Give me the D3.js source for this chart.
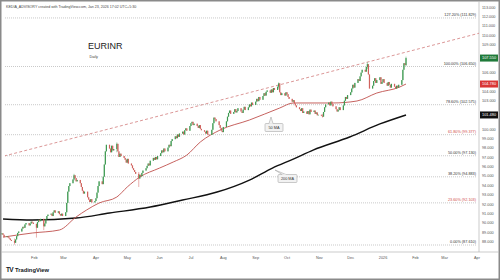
<!DOCTYPE html>
<html>
<head>
<meta charset="utf-8">
<script src="https://cdn.jsdelivr.net/npm/d3@7"></script>
<style>
  html, body { margin: 0; padding: 0; background: #fff; }
  svg { display: block; font-family: "Liberation Sans", Arial, sans-serif; }
</style>
</head>
<body>
<svg id="chart" width="500" height="280"></svg>
<script>
// ---- data ----
var firstDay = "2025-01-01", lastDay = "2026-01-23";
var firstOpen = 88.75;
// daily closes, one row per week
var closes = [
    88.85, 88.70, 88.45,
    88.55, 88.40, 88.30, 88.15, 88.05,
    87.85, 88.20, 88.55, 88.90, 89.05,
    89.35, 89.55, 89.45, 89.80, 89.95,
    89.70, 89.90, 90.10, 90.00, 89.85,
    89.45, 90.05, 90.30, 90.15, 90.40,
    89.60, 89.90, 90.35, 90.70, 90.85,
    90.95, 90.70, 91.10, 91.30, 91.05,
    91.20, 90.90, 90.75, 90.95, 90.70,
    91.10, 92.10, 93.30, 93.90, 94.20,
    94.60, 95.05, 94.75, 94.40, 94.55,
    94.20, 93.80, 93.40, 93.10, 93.30,
    92.70, 92.45, 92.20, 92.50, 92.15,
    92.30, 92.60, 93.20, 93.90, 94.40,
    94.10, 94.90, 96.20, 97.60, 98.30,
    97.90, 97.50, 98.20, 97.70, 97.85,
    98.40, 97.60, 97.00, 97.35, 97.10,
    96.90, 96.70, 96.40, 96.80, 96.30,
    96.10, 95.80, 95.60, 95.40, 95.20,
    94.70, 95.10, 94.95, 95.30, 95.55,
    95.80, 96.05, 96.30, 96.10, 96.60,
    96.90, 96.70, 97.00, 96.75, 97.10,
    97.40, 97.70, 97.50, 97.90, 97.60,
    98.00, 98.30, 98.15, 98.70, 98.90,
    99.20, 99.00, 99.40, 99.15, 99.50,
    99.70, 99.40, 99.85, 100.05, 99.80,
    100.30, 100.60, 100.75, 100.40, 100.55,
    100.30, 100.10, 100.40, 100.00, 99.85,
    99.70, 99.50, 99.80, 99.40, 99.35,
    99.90, 100.60, 101.20, 101.05, 100.80,
    100.40, 100.10, 99.80, 99.65, 100.20,
    100.80, 101.30, 101.70, 101.95, 101.60,
    101.80, 102.10, 101.75, 101.90, 102.20,
    101.85, 101.70, 102.05, 102.35, 102.00,
    102.30, 102.60, 102.40, 102.80, 102.55,
    102.90, 103.20, 102.95, 103.40, 103.10,
    103.50, 103.80, 103.55, 103.95, 104.10,
    103.85, 104.20, 103.90, 104.35, 104.15,
    104.50, 104.85, 103.90, 103.60, 103.80,
    103.55, 103.90, 103.70, 103.40, 103.20,
    102.90, 103.05, 102.70, 102.50, 102.30,
    102.10, 101.90, 102.20, 101.70, 101.85,
    101.60, 101.90, 101.55, 102.05, 101.80,
    101.95, 101.60, 101.75, 101.45, 101.50,
    101.40, 101.30, 101.80, 102.30, 102.60,
    102.80, 102.50, 102.90, 102.65, 102.40,
    102.10, 101.85, 102.00, 102.30, 102.00,
    102.50, 103.00, 103.40, 103.20, 103.60,
    103.90, 104.30, 104.70, 104.40, 104.90,
    105.30, 105.10, 105.60, 106.00, 106.30,
    106.10, 106.60, 106.90, 105.80, 104.30,
    104.60, 105.10, 105.40, 104.90, 105.20,
    105.50, 104.80, 105.00, 105.30, 104.90,
    104.60, 105.00, 104.70, 104.40, 104.80,
    104.50, 104.30, 104.60, 104.40, 104.70,
    105.20, 106.30, 107.00, 106.80, 107.55
];
// visible long wicks [date, high, low]
var spikes = [
    ["2025-01-13", 88.30, 87.65],
    ["2025-02-03", 89.90, 88.40],
    ["2025-02-10", 90.40, 89.20],
    ["2025-03-11", 95.20, 94.50],
    ["2025-04-21", 98.55, 97.50],
    ["2025-05-12", 95.40, 93.80],
    ["2025-09-23", 104.95, 104.30],
    ["2025-11-04", 101.60, 101.20],
    ["2025-12-17", 107.10, 106.40],
    ["2026-01-23", 107.70, 106.70]
];
var ma50 = [
    ["2025-01-02", 88.45], ["2025-01-30", 88.89], ["2025-02-25", 89.21],
    ["2025-03-13", 90.60], ["2025-03-23", 91.34], ["2025-04-04", 92.09],
    ["2025-04-21", 92.73], ["2025-05-01", 93.80], ["2025-05-13", 94.86],
    ["2025-06-01", 95.82], ["2025-06-14", 96.46], ["2025-06-27", 97.20],
    ["2025-07-10", 98.60], ["2025-07-29", 99.88], ["2025-08-26", 100.94],
    ["2025-09-24", 102.22], ["2025-10-07", 102.76], ["2025-11-14", 102.76],
    ["2025-12-07", 102.97], ["2025-12-26", 103.82], ["2026-01-17", 104.46],
    ["2026-01-23", 104.78]
];
var ma200 = [
    ["2025-01-02", 90.38], ["2025-01-30", 90.28], ["2025-03-13", 90.49],
    ["2025-04-14", 91.02], ["2025-05-23", 91.66], ["2025-06-23", 92.41],
    ["2025-07-26", 93.26], ["2025-08-26", 94.54], ["2025-09-17", 95.82],
    ["2025-10-07", 96.78], ["2025-10-26", 97.74], ["2025-11-30", 99.13],
    ["2025-12-29", 100.52], ["2026-01-23", 101.48]
];
var trendLine = [["2025-01-03", 97.10], ["2026-04-03", 110.20]];
var fibLow = 87.61, fibHigh = 106.65;
var fibRatios = [0, 0.236, 0.382, 0.5, 0.618, 0.786, 1, 1.272];
var fibRed = [0.236, 0.618];
var priceTicks = [88, 89, 90, 91, 92, 93, 94, 95, 96, 97, 98, 99, 100,
    101, 102, 103, 104, 105, 106, 107, 108, 109, 110, 111, 112, 113];
var monthTicks = ["2025-02-01", "2025-03-01", "2025-04-01", "2025-05-01", "2025-06-01",
    "2025-07-01", "2025-08-01", "2025-09-01", "2025-10-01", "2025-11-01", "2025-12-01",
    "2026-01-01", "2026-02-01", "2026-03-01", "2026-04-01"];
var monthLabels = ["Feb", "Mar", "Apr", "May", "Jun", "Jul", "Aug", "Sep", "Oct",
    "Nov", "Dec", "2026", "Feb", "Mar", "Apr"];

var headerText = "KEDIA_ADVISORY created with TradingView.com, Jan 23, 2026 17:02 UTC+5:30";

// ---- layout ----
var plotLeft = 5, plotRight = 479, plotBottom = 252;
var upColor = "#3f9a52", downColor = "#d0625d";

var parse = d3.utcParse("%Y-%m-%d");
var svg = d3.select("#chart");

var x = d3.scaleUtc()
    .domain([parse("2025-01-01"), parse("2026-04-01")])
    .range([2, 477]);

var y = d3.scaleLinear()
    .domain([fibLow, fibHigh])
    .range([245, 66.5]);

var days = d3.utcDay.range(parse(firstDay), d3.utcDay.offset(parse(lastDay), 1))
    .filter(function(d) {
        var w = d.getUTCDay();
        return w > 0 && w < 6;
    });
if (days.length !== closes.length) console.log("day count", days.length, closes.length);

var spikeMap = {};
spikes.forEach(function(s) { spikeMap[s[0]] = s; });

var candles = days.map(function(d, i) {
    var open = i ? closes[i - 1] : firstOpen;
    var close = closes[i];
    var key = d3.utcFormat("%Y-%m-%d")(d);
    var hi = Math.max(open, close), lo = Math.min(open, close);
    if (spikeMap[key]) {
        hi = Math.max(hi, spikeMap[key][1]);
        lo = Math.min(lo, spikeMap[key][2]);
    }
    return { date: d, open: open, close: close, high: hi, low: lo };
});

var lastClose = closes[closes.length - 1];
var last50 = ma50[ma50.length - 1][1];
var last200 = ma200[ma200.length - 1][1];

// frame
svg.append("rect")
    .attr("x", 0.75).attr("y", 0.75)
    .attr("width", 498.5).attr("height", 278.5)
    .attr("fill", "#fff")
    .attr("stroke", "#8a8a8a")
    .attr("stroke-width", 1.5);

svg.append("text")
    .attr("x", 6).attr("y", 7.5)
    .attr("font-size", 3.6)
    .attr("fill", "#444")
    .text(headerText);

// plot clip
svg.append("clipPath").attr("id", "plot")
    .append("rect")
    .attr("x", plotLeft).attr("y", 10)
    .attr("width", plotRight - plotLeft).attr("height", plotBottom - 10);

// axes lines
svg.append("line")
    .attr("x1", plotRight).attr("x2", plotRight)
    .attr("y1", 1.5).attr("y2", plotBottom)
    .attr("stroke", "#b5b5b5").attr("stroke-width", 0.7);
svg.append("line")
    .attr("x1", 1.5).attr("x2", 498.5)
    .attr("y1", plotBottom).attr("y2", plotBottom)
    .attr("stroke", "#b5b5b5").attr("stroke-width", 0.7);

// fib levels
var fib = svg.append("g").attr("clip-path", "url(#plot)");
fib.selectAll("line")
    .data(fibRatios)
    .enter().append("line")
    .attr("x1", plotLeft).attr("x2", plotRight - 2)
    .attr("y1", function(r) { return y(fibLow + r * (fibHigh - fibLow)); })
    .attr("y2", function(r) { return y(fibLow + r * (fibHigh - fibLow)); })
    .attr("stroke", "#8f8f8f")
    .attr("stroke-width", 0.6)
    .attr("stroke-dasharray", "0.8,1.2");
svg.append("g").selectAll("text")
    .data(fibRatios)
    .enter().append("text")
    .attr("x", plotRight - 3)
    .attr("y", function(r) { return y(fibLow + r * (fibHigh - fibLow)) - 1.6; })
    .attr("text-anchor", "end")
    .attr("font-size", 3.8)
    .attr("fill", function(r) { return fibRed.indexOf(r) >= 0 ? "#d04a4a" : "#333"; })
    .text(function(r) {
        return d3.format(".2f")(r * 100) + "% (" + d3.format(".3f")(fibLow + r * (fibHigh - fibLow)) + ")";
    });

// trend line
svg.append("line")
    .attr("clip-path", "url(#plot)")
    .attr("x1", x(parse(trendLine[0][0]))).attr("y1", y(trendLine[0][1]))
    .attr("x2", x(parse(trendLine[1][0]))).attr("y2", y(trendLine[1][1]))
    .attr("stroke", "#d27c7c")
    .attr("stroke-width", 0.8)
    .attr("stroke-dasharray", "3,2.2");

// moving averages
var maLine = d3.line()
    .x(function(d) { return x(parse(d[0])); })
    .y(function(d) { return y(d[1]); })
    .curve(d3.curveMonotoneX);

svg.append("path")
    .attr("d", maLine(ma200))
    .attr("fill", "none")
    .attr("stroke", "#111")
    .attr("stroke-width", 1.4);

svg.append("path")
    .attr("d", maLine(ma50))
    .attr("fill", "none")
    .attr("stroke", "#c0504d")
    .attr("stroke-width", 0.9);

// candles
var cg = svg.append("g");
cg.selectAll("line")
    .data(candles)
    .enter().append("line")
    .attr("x1", function(d) { return x(d.date); })
    .attr("x2", function(d) { return x(d.date); })
    .attr("y1", function(d) { return y(d.high); })
    .attr("y2", function(d) { return y(d.low); })
    .attr("stroke", function(d) { return d.close >= d.open ? upColor : downColor; })
    .attr("stroke-width", 0.5);
cg.selectAll("rect")
    .data(candles)
    .enter().append("rect")
    .attr("x", function(d) { return x(d.date) - 0.6; })
    .attr("width", 1.2)
    .attr("y", function(d) { return y(Math.max(d.open, d.close)); })
    .attr("height", function(d) { return Math.max(0.6, Math.abs(y(d.open) - y(d.close))); })
    .attr("fill", function(d) { return d.close >= d.open ? upColor : downColor; });

// price axis (labels hidden behind the price tags)
var tagValues = [lastClose, last50, last200];
var shownTicks = priceTicks.filter(function(v) {
    return tagValues.every(function(t) { return Math.abs(y(v) - y(t)) > 6; });
});
var yAxis = d3.axisRight(y)
    .tickValues(shownTicks)
    .tickSize(0)
    .tickPadding(3)
    .tickFormat(d3.format(".3f"));
var ya = svg.append("g")
    .attr("transform", "translate(" + plotRight + ",0)")
    .call(yAxis);
ya.select(".domain").remove();
ya.selectAll("text")
    .attr("font-size", 3.8)
    .attr("font-family", "Liberation Sans, Arial, sans-serif")
    .attr("fill", "#555");

// price tags
function tag(value, fill) {
    var g = svg.append("g").attr("transform", "translate(" + (plotRight + 1) + "," + y(value) + ")");
    g.append("rect")
        .attr("x", 0).attr("y", -3.5)
        .attr("width", 18).attr("height", 7)
        .attr("fill", fill);
    g.append("text")
        .attr("x", 2).attr("y", 1.4)
        .attr("font-size", 3.9)
        .attr("fill", "#fff")
        .text(d3.format(".3f")(value));
}
tag(lastClose, "#1f7a3a");
tag(last50, "#d93636");
tag(last200, "#111");

// time axis
var xa = svg.append("g");
xa.selectAll("text")
    .data(monthTicks)
    .enter().append("text")
    .attr("x", function(d) { return x(parse(d)); })
    .attr("y", 258.5)
    .attr("text-anchor", "middle")
    .attr("font-size", 3.8)
    .attr("fill", "#555")
    .text(function(d, i) { return monthLabels[i]; });

// callouts
function callout(bx, by, w, tipX, tipY, label) {
    var g = svg.append("g");
    g.append("path")
        .attr("d", "M" + (bx + 4) + "," + by + "L" + tipX + "," + tipY + "L" + (bx + 8) + "," + by)
        .attr("fill", "#f2f2f2")
        .attr("stroke", "#9a9a9a")
        .attr("stroke-width", 0.5);
    g.append("rect")
        .attr("x", bx).attr("y", by)
        .attr("width", w).attr("height", 8)
        .attr("rx", 1)
        .attr("fill", "#f2f2f2")
        .attr("stroke", "#9a9a9a")
        .attr("stroke-width", 0.5);
    g.append("rect")
        .attr("x", bx + 4.3).attr("y", by - 0.3)
        .attr("width", 3.4).attr("height", 1)
        .attr("fill", "#f2f2f2");
    g.append("text")
        .attr("x", bx + w / 2).attr("y", by + 5.4)
        .attr("text-anchor", "middle")
        .attr("font-size", 3.8)
        .attr("fill", "#333")
        .text(label);
}
callout(265, 123.5, 18, 271, 117, "50 MA");
callout(278, 174.5, 19, 275, 170, "200 MA");

// title
svg.append("text")
    .attr("x", 88).attr("y", 49)
    .attr("font-size", 9)
    .attr("fill", "#222")
    .text("EURINR");
svg.append("text")
    .attr("x", 89.5).attr("y", 58)
    .attr("font-size", 3.8)
    .attr("fill", "#444")
    .text("Daily");

// logo
var logo = svg.append("g").attr("transform", "translate(6,272)");
logo.append("text")
    .attr("x", 0).attr("y", 0)
    .attr("font-size", 6.5)
    .attr("font-weight", "bold")
    .attr("letter-spacing", -0.6)
    .attr("fill", "#131722")
    .text("TV");
logo.append("text")
    .attr("x", 9).attr("y", 0)
    .attr("font-size", 5.8)
    .attr("font-weight", "bold")
    .attr("fill", "#131722")
    .text("TradingView");
</script>
</body>
</html>
